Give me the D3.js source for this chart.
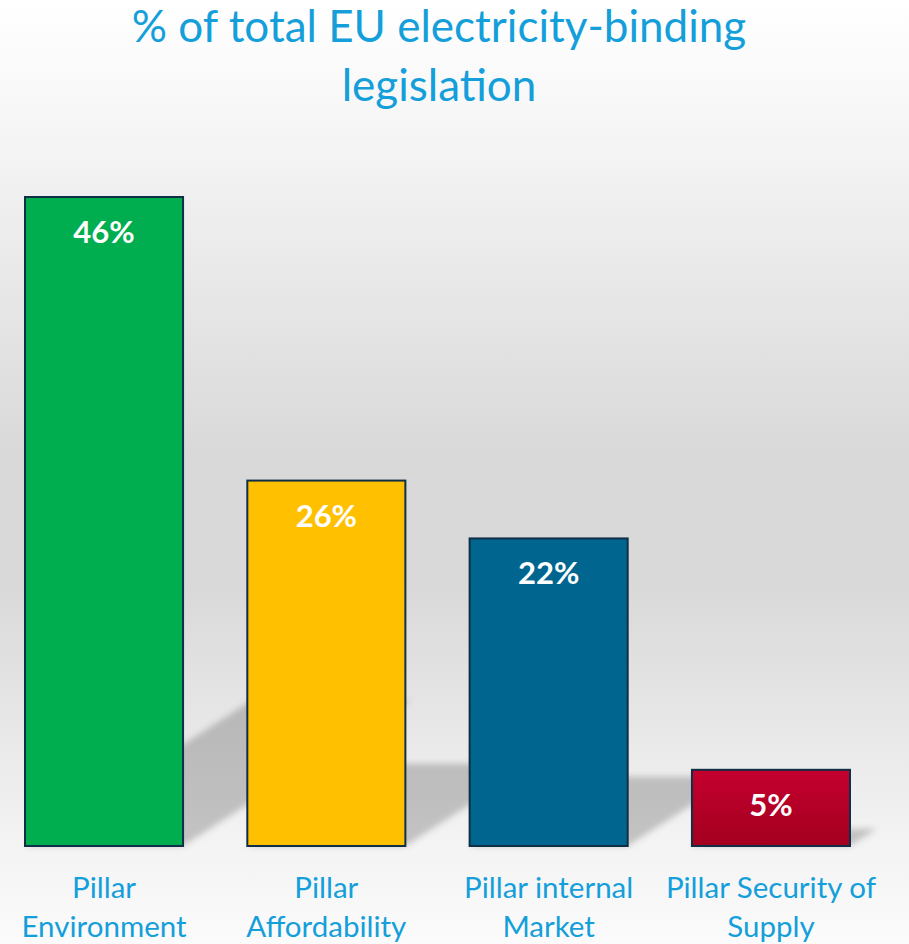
<!DOCTYPE html>
<html>
<head>
<meta charset="utf-8" />
<title>% of total EU electricity-binding legislation</title>
<script src="https://d3js.org/d3.v7.min.js"></script>
<style>
  body { margin: 0; background: #fff; }
  svg { display: block; font-family: Lato, "Open Sans", sans-serif; }
</style>
</head>
<body>
<div id="chart"></div>
<script>
// data
const categories = ["Pillar Environment", "Pillar Affordability", "Pillar internal Market", "Pillar Security of Supply"];
const labelLines = [["Pillar", "Environment"], ["Pillar", "Affordability"], ["Pillar internal", "Market"], ["Pillar Security of", "Supply"]];
const shares = [46, 25.9, 21.8, 5.4];
const barColors = ["#00AE50", "#FFC000", "#00668F", "#B8002A"];
const titleLines = ["% of total EU electricity-binding", "legislation"];

const width = 909, height = 944;
const blue = "#149FDB";

const svg = d3.select("#chart").append("svg")
  .attr("width", width)
  .attr("height", height);

const defs = svg.append("defs");

const bg = defs.append("linearGradient")
  .attr("id", "bg").attr("x1", 0).attr("y1", 0).attr("x2", 0).attr("y2", 1);
[[0, "#ffffff"], [0.12, "#f7f7f7"], [0.48, "#d9d9d9"], [0.62, "#d9d9d9"], [0.89, "#f3f3f3"], [1, "#fbfbfb"]]
  .forEach(s => bg.append("stop").attr("offset", s[0]).attr("stop-color", s[1]));

const redGrad = defs.append("linearGradient")
  .attr("id", "redGrad").attr("x1", 0).attr("y1", 0).attr("x2", 0).attr("y2", 1);
redGrad.append("stop").attr("offset", 0).attr("stop-color", "#C4002F");
redGrad.append("stop").attr("offset", 1).attr("stop-color", "#A3001E");

defs.append("filter").attr("id", "blur")
  .attr("x", "-20%").attr("y", "-20%").attr("width", "140%").attr("height", "140%")
  .append("feGaussianBlur").attr("stdDeviation", 3);

svg.append("rect")
  .attr("width", width).attr("height", height)
  .attr("fill", "url(#bg)");

// title
svg.append("text")
  .attr("x", 439)
  .attr("y", 42)
  .attr("text-anchor", "middle")
  .attr("fill", blue)
  .style("font-size", "44px")
  .selectAll("tspan")
  .data(titleLines)
  .join("tspan")
    .attr("x", 439)
    .attr("dy", (d, i) => i === 0 ? 0 : 59)
    .text(d => d);

const x = d3.scaleBand()
  .domain(categories)
  .range([25, 850])
  .paddingInner(0.289)
  .paddingOuter(0);

const y = d3.scaleLinear()
  .domain([0, 46])
  .range([846, 197]);

const data = categories.map((c, i) => ({ cat: c, value: shares[i], color: barColors[i], lines: labelLines[i] }));

// perspective shadows behind the bars
const shadow = d => {
  const x0 = x(d.cat), x1 = x0 + x.bandwidth();
  const b = y(0), h = y(0) - y(d.value);
  const dx = 0.35 * h, dy = 0.225 * h;
  return `M${x0},${b}L${x1},${b}L${x1 + dx},${b - dy}L${x0 + dx},${b - dy}Z`;
};

svg.append("g")
  .attr("filter", "url(#blur)")
  .selectAll("path")
  .data(data)
  .join("path")
    .attr("d", shadow)
    .attr("fill", "#000")
    .attr("fill-opacity", 0.2);

svg.append("g")
  .selectAll("rect")
  .data(data)
  .join("rect")
    .attr("x", d => x(d.cat))
    .attr("y", d => y(d.value))
    .attr("width", x.bandwidth())
    .attr("height", d => y(0) - y(d.value))
    .attr("fill", (d, i) => i === 3 ? "url(#redGrad)" : d.color)
    .attr("stroke", "#102E45")
    .attr("stroke-width", 2);

// value labels
svg.append("g")
  .selectAll("text")
  .data(data)
  .join("text")
    .attr("x", d => x(d.cat) + x.bandwidth() / 2)
    .attr("y", d => y(d.value) + 46)
    .attr("text-anchor", "middle")
    .attr("fill", "#fff")
    .style("font-size", "31px")
    .style("font-weight", "bold")
    .text(d => d3.format(".0f")(d.value) + "%");

// category labels
const cat = svg.append("g")
  .selectAll("text")
  .data(data)
  .join("text")
    .attr("y", 898)
    .attr("text-anchor", "middle")
    .attr("fill", blue)
    .style("font-size", "29.5px");

cat.selectAll("tspan")
  .data(d => d.lines.map(l => ({ l, cx: x(d.cat) + x.bandwidth() / 2 })))
  .join("tspan")
    .attr("x", d => d.cx)
    .attr("dy", (d, i) => i === 0 ? 0 : 39)
    .text(d => d.l);
</script>
</body>
</html>
